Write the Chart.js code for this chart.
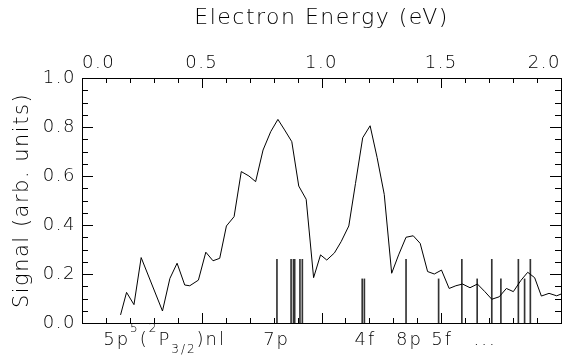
<!DOCTYPE html>
<html lang="en">
<head>
<meta charset="UTF-8">
<title>Electron Energy spectrum</title>
<script src="https://cdn.jsdelivr.net/npm/chart.js"></script>
<style>
  html, body { margin: 0; padding: 0; background: #fff; }
</style>
</head>
<body>
<canvas id="spectrum" width="571" height="358"></canvas>
<script>
// signal curve (eV, arb. units)
const energy = [0.161, 0.186, 0.217, 0.247, 0.336, 0.367, 0.397, 0.429, 0.450, 0.486,
                0.517, 0.547, 0.575, 0.603, 0.635, 0.665, 0.697, 0.725, 0.756, 0.788,
                0.818, 0.846, 0.876, 0.905, 0.936, 0.967, 0.996, 1.022, 1.054, 1.082,
                1.114, 1.142, 1.172, 1.203, 1.232, 1.262, 1.293, 1.322, 1.353, 1.383,
                1.412, 1.443, 1.471, 1.501, 1.533, 1.561, 1.589, 1.620, 1.651, 1.682,
                1.711, 1.742, 1.772, 1.801, 1.832, 1.861, 1.890, 1.918, 1.950, 1.982, 2.000];
const signal = [0.033, 0.125, 0.075, 0.267, 0.049, 0.182, 0.244, 0.155, 0.152, 0.175,
                0.289, 0.254, 0.264, 0.396, 0.434, 0.618, 0.600, 0.577, 0.706, 0.781,
                0.831, 0.788, 0.740, 0.559, 0.505, 0.185, 0.278, 0.257, 0.286, 0.332,
                0.396, 0.570, 0.756, 0.805, 0.676, 0.525, 0.203, 0.278, 0.350, 0.356,
                0.325, 0.210, 0.200, 0.216, 0.141, 0.152, 0.159, 0.144, 0.159, 0.128,
                0.097, 0.107, 0.141, 0.128, 0.173, 0.207, 0.185, 0.110, 0.121, 0.111, 0.118];

// Rydberg level markers
const tallLevels = [0.814, 0.873, 0.883, 0.888, 0.910, 0.920, 1.353, 1.586, 1.711, 1.822, 1.872];
const tallHeight = 0.26;
const midLevels = [1.170, 1.179, 1.489, 1.650, 1.749, 1.848];
const midHeight = 0.18;

// series names under the axis (^{} superscript, _{} subscript)
const levelNames = ['5p^{5}(^{2}P_{3/2})nl', '7p', '4f', '8p', '5f', '...'];
const levelNameE = [0.345, 0.8125, 1.183, 1.367, 1.504, 1.683];

const FONT = 'DejaVu Sans';
const WEIGHT = 200;

// wide letter spacing like the plotter font
const spacing = {
    id: 'spacing',
    beforeUpdate(chart) { chart.ctx.letterSpacing = '1.5px'; },
    beforeDraw(chart) { chart.ctx.letterSpacing = '1.5px'; }
};

// inward tick marks, IDL style
const innerTicks = {
    id: 'innerTicks',
    afterDraw(chart) {
        const { ctx, chartArea: a, scales } = chart;
        ctx.save();
        ctx.strokeStyle = '#000';
        ctx.lineWidth = 1;
        ctx.beginPath();
        for (let i = 0; i <= 20; i++) {
            const x = Math.round(scales.x.getPixelForValue(i / 10)) + 0.5;
            const len = i % 5 === 0 ? 10 : 5;
            ctx.moveTo(x, a.bottom); ctx.lineTo(x, a.bottom - len);
            ctx.moveTo(x, a.top); ctx.lineTo(x, a.top + len);
        }
        for (let i = 0; i <= 20; i++) {
            const y = Math.round(scales.y.getPixelForValue(i / 20)) + 0.5;
            const len = i % 4 === 0 ? 11 : 6;
            ctx.moveTo(a.left, y); ctx.lineTo(a.left + len, y);
            ctx.moveTo(a.right, y); ctx.lineTo(a.right - len, y);
        }
        ctx.stroke();
        ctx.restore();
    }
};

// names of the series under the bottom axis, with super/subscripts
function splitRich(s) {
    const out = [];
    const re = /(\^\{[^}]*\}|_\{[^}]*\})/g;
    s.split(re).forEach(p => {
        if (!p) return;
        if (p[0] === '^') out.push({ t: p.slice(2, -1), k: 1 });
        else if (p[0] === '_') out.push({ t: p.slice(2, -1), k: -1 });
        else out.push({ t: p, k: 0 });
    });
    return out;
}
const seriesNames = {
    id: 'seriesNames',
    afterDraw(chart) {
        const { ctx, chartArea: a, scales } = chart;
        ctx.save();
        ctx.fillStyle = '#000';
        ctx.textBaseline = 'alphabetic';
        ctx.letterSpacing = '2px';
        const base = a.bottom + 22;
        levelNames.forEach((name, i) => {
            const parts = splitRich(name);
            let w = 0;
            parts.forEach(p => {
                ctx.font = WEIGHT + ' ' + (p.k === 0 ? 18 : 12) + 'px "' + FONT + '"';
                p.w = ctx.measureText(p.t).width;
                w += p.w;
            });
            let x = scales.x.getPixelForValue(levelNameE[i]) - w / 2;
            parts.forEach(p => {
                ctx.font = WEIGHT + ' ' + (p.k === 0 ? 18 : 12) + 'px "' + FONT + '"';
                const dy = p.k === 1 ? -13 : (p.k === -1 ? 8 : 0);
                ctx.fillText(p.t, x, base + dy);
                x += p.w;
            });
        });
        ctx.restore();
    }
};

const border = { display: true, color: '#000', width: 1 };
const tickFont = { family: FONT, size: 18, weight: WEIGHT };

new Chart(document.getElementById('spectrum'), {
    type: 'line',
    data: {
        datasets: [{
            type: 'line',
            data: energy.map((e, i) => ({ x: e, y: signal[i] })),
            borderColor: '#000',
            borderWidth: 1,
            pointRadius: 0,
            tension: 0,
            fill: false
        }, {
            type: 'bar',
            data: tallLevels.map(e => ({ x: e, y: tallHeight })),
            backgroundColor: '#333',
            borderWidth: 0,
            barThickness: 1,
            grouped: false
        }, {
            type: 'bar',
            data: midLevels.map(e => ({ x: e, y: midHeight })),
            backgroundColor: '#333',
            borderWidth: 0,
            barThickness: 1,
            grouped: false
        }]
    },
    options: {
        responsive: false,
        animation: false,
        layout: { padding: 0 },
        plugins: { legend: { display: false }, tooltip: { enabled: false } },
        scales: {
            x: {
                type: 'linear', position: 'bottom', min: 0, max: 2, offset: false,
                grid: { display: false }, border: border,
                ticks: { display: false },
                afterFit: s => { s.height = 35; }
            },
            x2: {
                type: 'linear', position: 'top', min: 0, max: 2, offset: false,
                grid: { display: false, drawTicks: false }, border: border,
                ticks: { stepSize: 0.5, align: 'inner', padding: 4, color: '#000', font: tickFont,
                         maxRotation: 0, callback: v => v.toFixed(1) },
                title: { display: true, text: 'Electron Energy (eV)', color: '#000',
                         font: { family: FONT, size: 22, weight: WEIGHT }, padding: { top: 5, bottom: 0 } },
                afterFit: s => { s.height = 78; }
            },
            y: {
                type: 'linear', position: 'left', min: 0, max: 1,
                grid: { display: false, drawTicks: false }, border: border,
                ticks: { stepSize: 0.2, padding: 6, color: '#000', font: tickFont,
                         callback: v => v.toFixed(1) },
                title: { display: true, text: 'Signal (arb. units)', color: '#000',
                         font: { family: FONT, size: 21, weight: WEIGHT }, padding: { top: 10, bottom: 0 } },
                afterFit: s => { s.width = 82; }
            },
            y2: {
                type: 'linear', position: 'right', min: 0, max: 1,
                grid: { display: false }, border: border,
                ticks: { display: false },
                afterFit: s => { s.width = 10; }
            }
        }
    },
    plugins: [spacing, innerTicks, seriesNames]
});
</script>
</body>
</html>
